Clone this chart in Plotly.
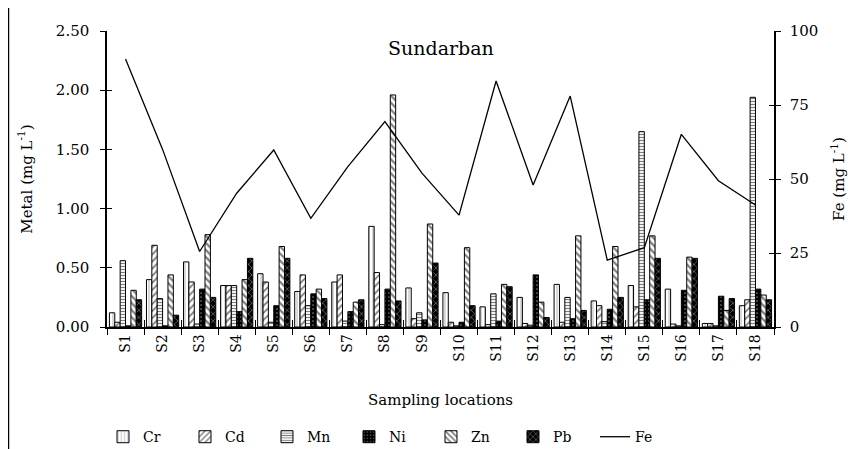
import plotly.graph_objects as go

locations = ["S1", "S2", "S3", "S4", "S5", "S6", "S7", "S8", "S9",
             "S10", "S11", "S12", "S13", "S14", "S15", "S16", "S17", "S18"]

cr = [0.12, 0.40, 0.55, 0.35, 0.45, 0.30, 0.38, 0.85, 0.33, 0.29, 0.17, 0.25, 0.36, 0.22, 0.35, 0.32, 0.03, 0.18]
cd = [0.04, 0.69, 0.38, 0.35, 0.38, 0.44, 0.44, 0.46, 0.07, 0.04, 0.02, 0.03, 0.04, 0.18, 0.17, 0.025, 0.03, 0.23]
mn = [0.56, 0.24, 0.025, 0.35, 0.04, 0.18, 0.05, 0.02, 0.12, 0.01, 0.28, 0.015, 0.25, 0.045, 1.65, 0.01, 0.01, 1.94]
ni = [0.01, 0.01, 0.32, 0.13, 0.18, 0.28, 0.13, 0.32, 0.06, 0.04, 0.05, 0.44, 0.07, 0.15, 0.23, 0.31, 0.26, 0.32]
zn = [0.31, 0.44, 0.78, 0.40, 0.68, 0.32, 0.21, 1.96, 0.87, 0.67, 0.36, 0.21, 0.77, 0.68, 0.77, 0.59, 0.14, 0.27]
pb = [0.23, 0.10, 0.25, 0.58, 0.58, 0.24, 0.23, 0.22, 0.54, 0.18, 0.34, 0.08, 0.14, 0.25, 0.58, 0.58, 0.24, 0.23]
fe = [90.5, 60.0, 25.5, 45.2, 59.8, 36.7, 54.2, 69.4, 52.0, 37.8, 83.1, 48.0, 78.0, 22.6, 26.8, 65.1, 49.4, 41.2]

FONT = "DejaVu Serif"

styles = {
    "Cr": dict(shape="|", bgcolor="white", fgcolor="black", size=4, solidity=0.15),
    "Cd": dict(shape="/", bgcolor="white", fgcolor="black", size=5, solidity=0.35),
    "Mn": dict(shape="-", bgcolor="white", fgcolor="black", size=3, solidity=0.4),
    "Ni": dict(shape=".", bgcolor="black", fgcolor="white", size=4, solidity=0.15),
    "Zn": dict(shape="\\", bgcolor="white", fgcolor="black", size=5, solidity=0.45),
    "Pb": dict(shape="x", bgcolor="black", fgcolor="white", size=5, solidity=0.25),
}
series = [("Cr", cr), ("Cd", cd), ("Mn", mn), ("Ni", ni), ("Zn", zn), ("Pb", pb)]

fig = go.Figure()
for name, vals in series:
    fig.add_trace(go.Bar(
        x=locations, y=vals, name=name,
        marker=dict(color="white", line=dict(color="black", width=1),
                    pattern=styles[name]),
    ))

fig.add_trace(go.Scatter(
    x=locations, y=fe, name="Fe", yaxis="y2", mode="lines",
    line=dict(color="black", width=1.3),
))

# helper traces (outside visible range) so the inner tick axes get drawn
fig.add_trace(go.Scatter(x=[-5], y=[-5], xaxis="x2", yaxis="y3", mode="markers",
                         showlegend=False, hoverinfo="skip", marker=dict(opacity=0)))
fig.add_trace(go.Scatter(x=[-5], y=[-50], xaxis="x2", yaxis="y4", mode="markers",
                         showlegend=False, hoverinfo="skip", marker=dict(opacity=0)))

fig.update_layout(
    width=849, height=441,
    margin=dict(l=99, r=83, t=23, b=122, autoexpand=False),
    paper_bgcolor="white", plot_bgcolor="white",
    font=dict(family=FONT, size=14, color="black"),
    barmode="group", bargap=0.13, bargroupgap=0,
    showlegend=True,
    legend=dict(orientation="h", x=-0.006, xanchor="left", y=-0.372, yanchor="middle",
                font=dict(family=FONT, size=14), entrywidth=37, entrywidthmode="pixels",
                traceorder="normal", itemwidth=30, bgcolor="rgba(0,0,0,0)"),
    xaxis=dict(type="category", range=[-0.5, 17.5], tickson="boundaries", ticks="outside", ticklen=6,
               tickcolor="black", tickwidth=1, tickangle=-90, automargin=False,
               showline=True, linecolor="black", linewidth=1.5, showgrid=False,
               tickfont=dict(family=FONT, size=14),
               title=dict(text="Sampling locations", font=dict(family=FONT, size=15), standoff=34)),
    xaxis2=dict(range=[-0.5, 17.5], tick0=-0.5, dtick=1, ticks="inside", ticklen=7,
                tickcolor="black", showticklabels=False, showline=False, showgrid=False,
                zeroline=False, overlaying="x", anchor="y3", automargin=False),
    yaxis=dict(range=[0, 2.5], dtick=0.5, tickformat=".2f", ticks="outside", ticklen=5,
               tickcolor="black", showline=True, linecolor="black", linewidth=1.5, automargin=False,
               showgrid=False, zeroline=False, tickfont=dict(family=FONT, size=15),
               ticklabelstandoff=8,
               title=dict(text="Metal (mg L<sup>-1</sup>)", font=dict(family=FONT, size=15), standoff=20)),
    yaxis3=dict(range=[0, 2.5], dtick=0.5, ticks="inside", ticklen=5, tickcolor="black",
                showticklabels=False, showline=False, showgrid=False, zeroline=False,
                overlaying="y", anchor="x2", side="left", automargin=False),
    yaxis2=dict(range=[0, 100], dtick=25, overlaying="y", side="right", ticks="outside", ticklen=5,
                tickcolor="black", showline=True, linecolor="black", linewidth=1.5, automargin=False,
                showgrid=False, zeroline=False, tickfont=dict(family=FONT, size=15),
                ticklabelstandoff=6,
                title=dict(text="Fe (mg L<sup>-1</sup>)", font=dict(family=FONT, size=15), standoff=16)),
    yaxis4=dict(range=[0, 100], dtick=25, overlaying="y", side="right", ticks="inside", ticklen=5,
                tickcolor="black", showticklabels=False, showline=False, showgrid=False,
                zeroline=False, anchor="x2", automargin=False),
    annotations=[dict(text="Sundarban", xref="paper", yref="paper", x=0.5, y=0.943,
                      xanchor="center", yanchor="middle",
                      showarrow=False, font=dict(family=FONT, size=19))],
    shapes=[
        dict(type="line", xref="paper", yref="paper", x0=-0.1477, x1=-0.1477, y0=-0.42, y1=1.08,
             line=dict(color="black", width=1.5)),
        dict(type="line", xref="paper", yref="paper", x0=1.1184, x1=1.1184, y0=-0.42, y1=-0.054,
             line=dict(color="black", width=1)),
    ],
)

fig.write_html("out.html")
